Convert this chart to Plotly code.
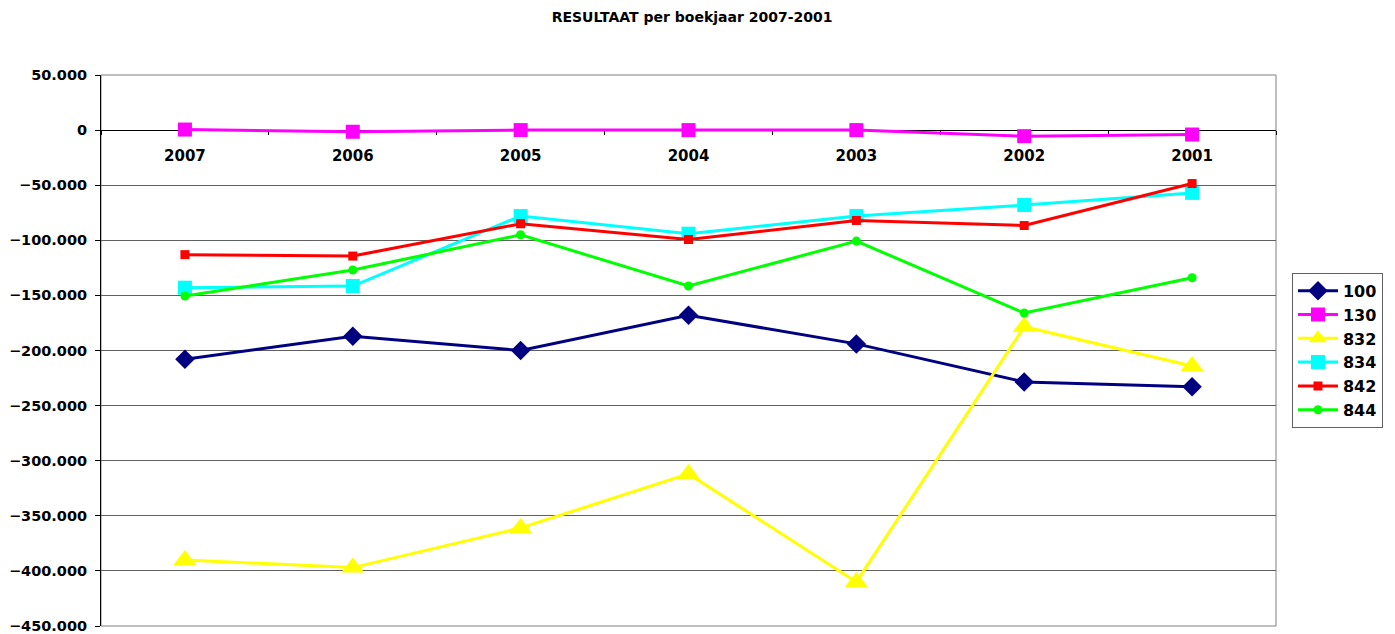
import plotly.graph_objects as go

years = ["2007", "2006", "2005", "2004", "2003", "2002", "2001"]
s100 = [-208000, -187000, -200000, -168000, -194000, -228500, -233000]
s130 = [500, -1500, 0, 0, 0, -5500, -4000]
s832 = [-390000, -397000, -361000, -312000, -410000, -178500, -214000]
s834 = [-143000, -141500, -78000, -94000, -78000, -68000, -57000]
s842 = [-113000, -114300, -85000, -99300, -82000, -86600, -48500]
s844 = [-150500, -127000, -95000, -141500, -100700, -166000, -134000]

series = [
    ("100", s100, "#000080", "diamond", 15),
    ("130", s130, "#FF00FF", "square", 14),
    ("832", s832, "#FFFF00", "triangle-up", 20),
    ("834", s834, "#00FFFF", "square", 14),
    ("842", s842, "#FF0000", "square", 9),
    ("844", s844, "#00FF00", "circle", 9),
]

fig = go.Figure()
for name, vals, color, sym, size in series:
    fig.add_trace(go.Scatter(
        x=years, y=vals, name=name, mode="lines+markers",
        line=dict(color=color, width=3),
        marker=dict(symbol=sym, size=size, color=color),
    ))

font_family = "DejaVu Sans"
bold = dict(family=font_family, size=14.5, color="black", weight="bold")
fig.update_layout(
    width=1387, height=626,
    margin=dict(l=93, r=119, t=67, b=8, autoexpand=False),
    paper_bgcolor="white", plot_bgcolor="white",
    separators=",.",
    title=dict(text="<b>RESULTAAT per boekjaar 2007-2001</b>", x=0.4932, xanchor="center",
               y=0.9856, yanchor="middle", font=dict(family=font_family, size=14, color="black")),
    font=dict(family=font_family, color="black"),
    showlegend=True,
    legend=dict(x=1.0136, xanchor="left", y=0.641, yanchor="top",
                bordercolor="#606060", borderwidth=1, bgcolor="white",
                font=dict(family=font_family, size=16, color="black", weight="bold"),
                itemwidth=40, tracegroupgap=0),
    xaxis=dict(type="category", anchor="free", position=0.9, automargin=False,
               showline=True, linecolor="black", linewidth=1, layer="below traces",
               ticks="outside", ticklen=4, tickcolor="black", tickson="boundaries",
               ticklabelstandoff=12,
               showgrid=False, zeroline=False,
               tickfont=dict(family=font_family, size=15, color="black", weight="bold"),
               range=[-0.5, 6.5]),
    yaxis=dict(range=[-450000, 50000], dtick=50000, tickformat=",d", automargin=False,
               showline=True, linecolor="black", linewidth=1, layer="below traces",
               ticks="outside", ticklen=5, tickcolor="black", ticklabelstandoff=5,
               ticklabeloverflow="allow",
               showgrid=True, gridcolor="#606060", gridwidth=1, zeroline=False,
               tickfont=bold),
)
fig.add_shape(type="rect", xref="paper", yref="paper", x0=0, x1=1, y0=0, y1=1,
              line=dict(color="#808080", width=1), layer="below")

fig.write_html("out.html")
